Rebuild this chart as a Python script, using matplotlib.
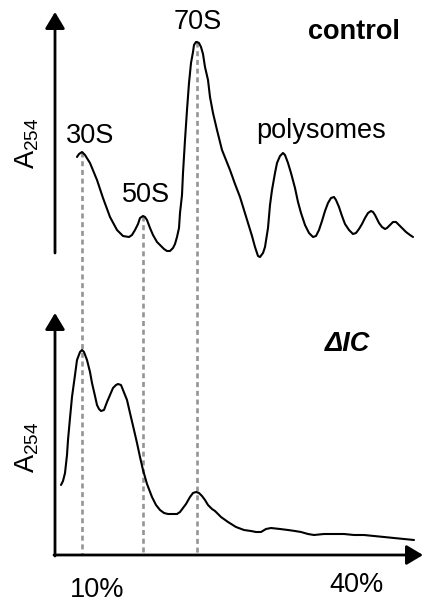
import matplotlib
matplotlib.use("Agg")
import matplotlib.pyplot as plt

plt.rcParams['font.family'] = ['Liberation Sans', 'DejaVu Sans']
plt.rcParams['mathtext.fontset'] = 'custom'
plt.rcParams['mathtext.rm'] = 'Liberation Sans'

# traces (x = position along gradient, y = height on the page, top down)
control_x = [77, 79, 82, 85, 90, 97, 103, 110, 117, 123, 129, 132, 135, 138, 140, 143, 145, 147, 150, 153,
             157, 160, 164, 167, 170, 173, 175, 177, 179, 180, 182, 183, 185, 187, 189, 191, 193, 194, 196,
             197, 199, 201, 203, 205, 208, 210, 213, 217, 222, 226, 230, 235, 240, 244, 248, 252, 255, 258,
             260, 263, 265, 268, 270, 272, 275, 277, 280, 283, 285, 288, 291, 295, 298, 301, 305, 309, 313,
             316, 319, 322, 325, 328, 331, 334, 336, 339, 342, 345, 349, 353, 356, 359, 362, 365, 368, 371,
             373, 375, 377, 379, 382, 385, 387, 390, 393, 396, 398, 400, 403, 406, 410, 413]
control_y = [157, 154, 152, 155, 163, 180, 198, 217, 230, 236, 237, 235, 230, 224, 218, 216, 217, 220, 228, 235,
             242, 245, 249, 251, 251, 248, 244, 237, 228, 213, 195, 173, 140, 110, 83, 63, 52, 45, 42,
             42, 43, 47, 54, 67, 80, 97, 113, 130, 150, 160, 170, 184, 197, 210, 223, 236, 247, 256,
             257, 253, 247, 228, 205, 190, 173, 163, 156, 153, 155, 163, 173, 188, 202, 213, 225, 233, 237,
             236, 230, 221, 211, 203, 198, 197, 200, 207, 216, 224, 230, 234, 233, 229, 224, 218, 213, 211,
             212, 215, 219, 223, 227, 229, 228, 225, 222, 222, 224, 226, 229, 232, 235, 237]

dic_x = [61, 63, 65, 67, 68, 70, 72, 75, 77, 80, 82, 84, 87, 90, 92, 95, 97, 99, 101, 104, 107, 110, 113,
         116, 118, 121, 123, 127, 130, 134, 137, 140, 143, 147, 152, 156, 160, 164, 168, 172, 177, 180, 183,
         186, 190, 193, 196, 199, 202, 205, 208, 212, 215, 221, 228, 236, 244, 251, 256, 261, 266, 271, 280,
         288, 295, 301, 308, 314, 324, 334, 344, 354, 364, 374, 384, 394, 404, 414]
dic_y = [485, 481, 473, 455, 440, 418, 397, 375, 360, 352, 350, 352, 360, 372, 383, 396, 405, 409, 411, 410, 402, 395,
         388, 385, 384, 385, 390, 400, 413, 430, 443, 457, 470, 484, 497, 505, 510, 513, 514, 514, 514, 512, 508,
         504, 497, 493, 492, 493, 496, 500, 505, 509, 511, 517, 522, 527, 530, 531, 532, 532, 529, 528, 529,
         530, 531, 532, 534, 535, 534, 534, 534, 535, 535, 536, 537, 538, 539, 540]

peak_x = [82, 143, 197]          # 30S, 50S, 70S
peak_top = [152, 216, 42]
peak_names = ["30S", "50S", "70S"]
peak_label_xy = [(90, 136), (146, 195), (198, 22)]

fig = plt.figure(figsize=(4.23, 6.03), dpi=100)
ax = fig.add_axes([0, 0, 1, 1])
ax.set_xlim(0, 423)
ax.set_ylim(603, 0)
ax.axis('off')

# dashed guide lines through the peaks
for px, top in zip(peak_x, peak_top):
    ax.plot([px, px], [top, 555], color='#949494', lw=1.9, ls=(0, (1.9, 1.4)), zorder=1)

ax.plot(control_x, control_y, color='black', lw=1.5, zorder=3,
        solid_joinstyle='round', solid_capstyle='round')
ax.plot(dic_x, dic_y, color='black', lw=1.5, zorder=3,
        solid_joinstyle='round', solid_capstyle='round')

arrow = dict(arrowstyle='-|>,head_length=0.5,head_width=0.3', lw=2, color='black',
             mutation_scale=20, shrinkA=0, shrinkB=0)
ax.annotate('', xy=(55, 12), xytext=(55, 253), arrowprops=arrow, annotation_clip=False)
ax.annotate('', xy=(55, 313), xytext=(55, 556), arrowprops=arrow, annotation_clip=False)
ax.annotate('', xy=(423, 555), xytext=(54, 555), arrowprops=arrow, annotation_clip=False)

fs = 19.5
for name, (lx, ly) in zip(peak_names, peak_label_xy):
    ax.text(lx, ly, name, fontsize=fs, ha='center', va='center')
ax.text(321, 131, "polysomes", fontsize=fs, ha='center', va='center')
ax.text(354, 32, "control", fontsize=fs, fontweight='bold', ha='center', va='center')
ax.text(348, 344, "ΔIC", fontsize=fs, fontweight='bold', style='italic', ha='center', va='center')

ax.text(27, 143, r"A$_\mathregular{254}$", fontsize=fs, rotation=90, ha='center', va='center')
ax.text(27, 447, r"A$_\mathregular{254}$", fontsize=fs, rotation=90, ha='center', va='center')

ax.text(97, 590, "10%", fontsize=fs, ha='center', va='center')
ax.text(357, 585, "40%", fontsize=fs, ha='center', va='center')

fig.savefig("out.png", dpi=100)
